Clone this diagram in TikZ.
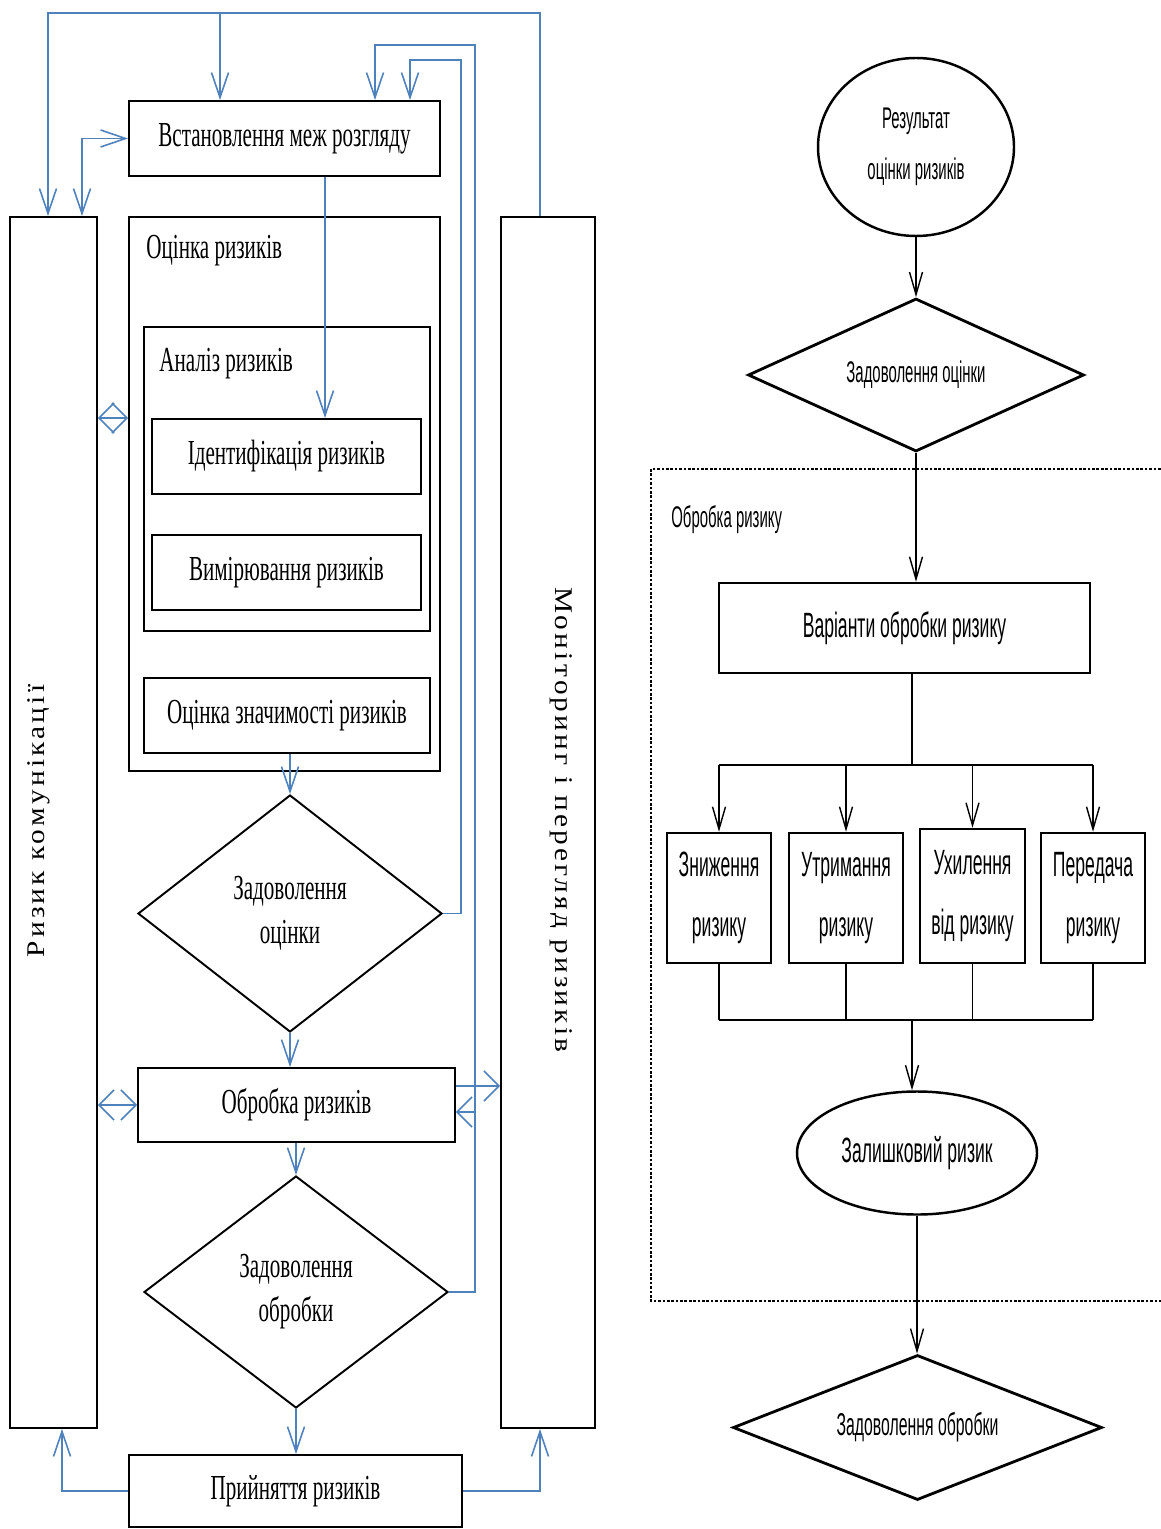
\documentclass[tikz,border=0pt]{standalone}
\usepackage{fontspec}
\setmainfont{Liberation Serif}
\newfontfamily\narrowserif[FakeStretch=0.6]{Liberation Serif}
\newfontfamily\narrowsans[FakeStretch=0.5]{Liberation Sans}
\newfontfamily\wideserif[FakeStretch=1.15,LetterSpace=13]{Liberation Serif}
\usetikzlibrary{arrows.meta,shapes.geometric}
\definecolor{Link}{RGB}{79,129,189}

\begin{document}
\begin{tikzpicture}[
    box/.style={draw, line width=1.1pt, align=center, inner sep=2pt,
      font=\narrowserif\fontsize{20}{25}\selectfont},
    frame/.style={draw, line width=1.1pt},
    tag/.style={anchor=west, inner sep=0pt, font=\narrowserif\fontsize{20}{25}\selectfont},
    cond/.style={draw, diamond, shape aspect=1.28, line width=1.1pt, inner sep=0pt, align=center,
      font=\narrowserif\fontsize{20}{25}\selectfont},
    side/.style={draw, line width=1.1pt, minimum height=24.22cm},
    vtext/.style={inner sep=0pt, font=\wideserif\fontsize{14.5}{16}\selectfont},
    rbox/.style={draw, line width=1.4pt, align=center, font=\narrowsans\fontsize{20}{34}\selectfont},
    oval/.style={draw, ellipse, line width=1.4pt, inner sep=0pt, align=center},
    rcond/.style={draw, diamond, line width=1.6pt, inner sep=0pt, align=center},
    link/.style={draw=Link, line width=0.9pt, -{Straight Barb[length=5mm,width=3.4mm]}},
    shorttip/.style={-{Straight Barb[length=3mm,width=6mm]}},
    twoway/.style={{Straight Barb[length=5mm,width=3.4mm]}-{Straight Barb[length=5mm,width=3.4mm]}},
    shortpair/.style={{Straight Barb[length=3mm,width=6mm]}-{Straight Barb[length=3mm,width=6mm]}},
    flow/.style={draw=black, line width=0.8pt, -{Straight Barb[length=4.5mm,width=2.6mm]}},
    wire/.style={draw=black, line width=0.8pt},
    dotbox/.style={draw=black, line width=1.5pt, dash pattern=on 1.5pt off 1pt}
  ]
    \useasboundingbox (0,0) rectangle (23.22,-30.58);

    \node[side, minimum width=1.74cm] (comm) at (1.07,-16.45) {};
    \node[vtext, rotate=90] (commtxt) at (0.78,-16.42) {Ризик комунікації};
    \node[side, minimum width=1.88cm] (monitor) at (10.96,-16.45) {};
    \node[vtext, rotate=-90] (montxt) at (11.22,-16.4) {Моніторинг і перегляд ризиків};

    \node[box, minimum width=6.22cm, minimum height=1.5cm] (setup) at (5.69,-2.77) {Встановлення меж розгляду};
    \node[frame, minimum width=6.22cm, minimum height=11.08cm] (assess) at (5.69,-9.88) {};
    \node[tag] (assesstxt) at ([xshift=0.36cm,yshift=-0.7cm]assess.north west) {Оцінка ризиків};
    \node[frame, minimum width=5.72cm, minimum height=6.08cm] (analysis) at (5.74,-9.58) {};
    \node[tag] (analysistxt) at ([xshift=0.32cm,yshift=-0.76cm]analysis.north west) {Аналіз ризиків};
    \node[box, minimum width=5.38cm, minimum height=1.5cm] (ident) at (5.73,-9.13) {Ідентифікація ризиків};
    \node[box, minimum width=5.38cm, minimum height=1.5cm] (measure) at (5.73,-11.45) {Вимірювання ризиків};
    \node[box, minimum width=5.72cm, minimum height=1.5cm] (evaluate) at (5.74,-14.31) {Оцінка значимості ризиків};
    \node[cond, minimum width=6.08cm, minimum height=4.74cm] (dsat) at (5.8,-18.27) {Задоволення\\оцінки};
    \node[box, minimum width=6.34cm, minimum height=1.48cm] (treat) at (5.93,-22.1) {Обробка ризиків};
    \node[cond, minimum width=6.08cm, minimum height=4.64cm] (dtreat) at (5.92,-25.84) {Задоволення\\обробки};
    \node[box, minimum width=6.66cm, minimum height=1.44cm] (accept) at (5.91,-29.82) {Прийняття ризиків};

    \coordinate (toprow) at (0,-0.26);
    \coordinate (midleft) at (0,-8.36);
    \coordinate (loopa) at (9.22,-1.2);
    \coordinate (loopb) at (9.5,-0.9);
    \coordinate (commin) at ([xshift=-0.11cm]comm.north);
    \coordinate (commout) at ([xshift=0.57cm]comm.north);
    \coordinate (monout) at ([xshift=-0.16cm]monitor.north);
    \coordinate (setupin) at ([xshift=-1.29cm]setup.north);
    \coordinate (identin) at ([xshift=0.81cm]setup.south);
    \coordinate (backin) at ([yshift=-0.14cm]treat.east);
    \coordinate (monin) at ([yshift=0.38cm]treat.east);

    \draw[link] (monout) |- (commin |- toprow) -- (commin);
    \draw[link] (setupin |- toprow) -- (setupin);
    \draw[link, twoway] (commout) |- (setup.west);
    \draw[link] (identin) -- (identin |- ident.north);
    \draw[link, shortpair] (comm.east |- midleft) -- (assess.west |- midleft);
    \draw[link] (dsat.east) -| (loopa) -| ([xshift=2.51cm]setup.north);
    \draw[link] (dtreat.east) -| (loopb) -| ([xshift=1.81cm]setup.north);
    \draw[link, shorttip] (loopb |- backin) -- (backin);
    \draw[link, shorttip] (monin) -- (monin -| monitor.west);
    \draw[link, shortpair] (comm.east |- treat.west) -- (treat.west);
    \draw[link] (evaluate.south -| dsat.north) -- (dsat.north);
    \draw[link] (dsat.south) -- (dsat.south |- treat.north);
    \draw[link] (treat.south -| dtreat.north) -- (dtreat.north);
    \draw[link] (dtreat.south) -- (dtreat.south |- accept.north);
    \draw[link] (accept.west) -| ([xshift=0.17cm]comm.south);
    \draw[link] (accept.east) -| ([xshift=-0.16cm]monitor.south);

    \node[oval, minimum width=3.92cm, minimum height=3.56cm,
      font=\narrowsans\fontsize{17}{29}\selectfont] (result) at (18.32,-2.94) {Результат\\оцінки ризиків};
    \node[rcond, shape aspect=2.2, minimum width=6.72cm, minimum height=3.06cm,
      font=\narrowsans\fontsize{17}{20}\selectfont] (dsat2) at (18.32,-7.5) {Задоволення оцінки};
    \draw[dotbox] (23.3,-9.38) -| (13.02,-26.02) -- (23.3,-26.02);
    \node[anchor=west, inner sep=0pt, font=\narrowsans\fontsize{17}{20}\selectfont] (treatlbl) at (13.42,-10.4) {Обробка ризику};
    \node[rbox, minimum width=7.42cm, minimum height=1.8cm] (options) at (18.09,-12.56) {Варіанти обробки ризику};
    \node[rbox, minimum width=2.08cm, minimum height=2.6cm] (reduce) at (14.38,-17.96) {Зниження\\ризику};
    \node[rbox, minimum width=2.28cm, minimum height=2.6cm] (retain) at (16.92,-17.96) {Утримання\\ризику};
    \node[rbox, minimum width=2.1cm, minimum height=2.68cm] (avoid) at (19.45,-17.92) {Ухилення\\від ризику};
    \node[rbox, minimum width=2.08cm, minimum height=2.6cm] (transfer) at (21.86,-17.96) {Передача\\ризику};
    \node[oval, minimum width=4.8cm, minimum height=2.46cm,
      font=\narrowsans\fontsize{20}{24}\selectfont] (resid) at (18.34,-23.06) {Залишковий ризик};
    \node[rcond, shape aspect=2.5, minimum width=7.38cm, minimum height=2.9cm,
      font=\narrowsans\fontsize{18}{20}\selectfont] (ddone) at (18.35,-28.55) {Задоволення обробки};

    \coordinate (busin) at (18.24,-15.3);
    \coordinate (busout) at (18.24,-20.4);

    \draw[flow] (result.south) -- (dsat2.north);
    \draw[flow] (dsat2.south) -- (dsat2.south |- options.north);
    \draw[wire] (options.south -| busin) -- (busin);
    \draw[wire] (reduce.north |- busin) -- (transfer.north |- busin);
    \draw[wire] (reduce.south |- busout) -- (transfer.south |- busout);
    \foreach \opt in {reduce,retain,avoid,transfer} {
      \draw[flow] (\opt.north |- busin) -- (\opt.north);
      \draw[wire] (\opt.south) -- (\opt.south |- busout);
    }
    \draw[flow] (busout) -- (resid.north -| busout);
    \draw[flow] (resid.south) -- (resid.south |- ddone.north);
  \end{tikzpicture}
\end{document}
